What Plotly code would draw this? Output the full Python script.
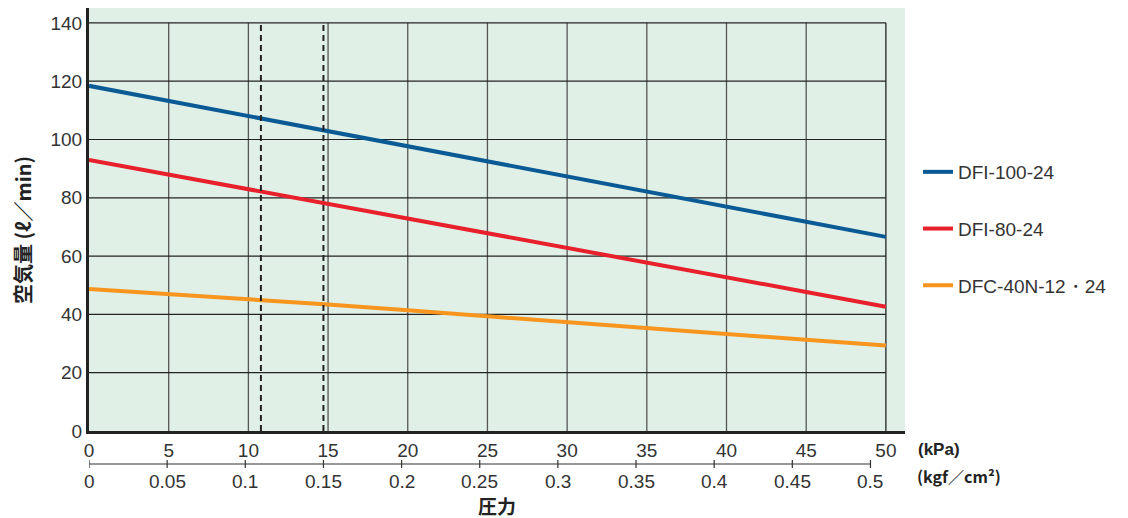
import plotly.graph_objects as go

# ---- data ----
pressure_kpa = [0, 5, 10, 15, 20, 25, 30, 35, 40, 45, 50]
dfi_100_24 = [118.4, 113.2, 108.0, 102.9, 97.7, 92.5, 87.3, 82.2, 77.0, 71.8, 66.6]
dfi_80_24 = [93.0, 88.0, 82.9, 77.9, 72.8, 67.8, 62.8, 57.7, 52.7, 47.7, 42.6]
dfc_40n = [48.7, 47.0, 45.2, 43.4, 41.4, 39.3, 37.3, 35.3, 33.3, 31.3, 29.3]
series_names = ["DFI-100-24", "DFI-80-24", "DFC-40N-12・24"]
series_colors = ["#0a5a96", "#e8202c", "#f7951e"]

kpa_ticks = [0, 5, 10, 15, 20, 25, 30, 35, 40, 45, 50]
kgf_ticks = [0, 0.05, 0.1, 0.15, 0.2, 0.25, 0.3, 0.35, 0.4, 0.45, 0.5]
kgf_labels = ["0", "0.05", "0.1", "0.15", "0.2", "0.25", "0.3", "0.35", "0.4", "0.45", "0.5"]
y_ticks = [0, 20, 40, 60, 80, 100, 120, 140]
dashed_kgf = [0.11, 0.15]
KPA_PER_KGF = 98.0665

x_max = 51.2
y_max = 145.1

FONT = "Liberation Sans, Arial"
JP = "Noto Sans CJK JP"

# page offset (body margin) and figure geometry
OFF = 8
W, H = 1120, 510
L, R, T, B = 81, 223, 0, 87
pw, ph = W - L - R, H - T - B


def px_x(x):
    return (x - OFF - L) / pw


def px_y(y):
    return (H - B - (y - OFF)) / ph


fig = go.Figure()
for name, ys, col in zip(series_names, [dfi_100_24, dfi_80_24, dfc_40n], series_colors):
    fig.add_trace(go.Scatter(x=pressure_kpa, y=ys, mode="lines", name=name,
                             legendgroup=name,
                             line=dict(color=col, width=4)))

shapes = []
for t in kpa_ticks[1:]:
    shapes.append(dict(type="line", xref="x", yref="y", x0=t, x1=t, y0=0, y1=y_ticks[-1],
                       line=dict(color="#555555" if t < 50 else "#222222", width=1.3), layer="below"))
for t in y_ticks[1:]:
    shapes.append(dict(type="line", xref="x", yref="y", x0=0, x1=kpa_ticks[-1], y0=t, y1=t,
                       line=dict(color="#222222", width=1.2), layer="below"))
for k in dashed_kgf:
    xv = k * KPA_PER_KGF
    shapes.append(dict(type="line", xref="x", yref="y", x0=xv, x1=xv, y0=0, y1=y_ticks[-1],
                       line=dict(color="#222222", width=2, dash="6px,4px")))
# kgf/cm2 secondary axis
sec_y = px_y(464)
tick_h = 4 / ph
shapes.append(dict(type="line", xref="x", yref="paper", x0=0, x1=kgf_ticks[-1] * KPA_PER_KGF,
                   y0=sec_y, y1=sec_y, line=dict(color="#333333", width=1.2)))
for k in kgf_ticks:
    xv = k * KPA_PER_KGF
    shapes.append(dict(type="line", xref="x", yref="paper", x0=xv, x1=xv,
                       y0=sec_y - tick_h, y1=sec_y + tick_h, line=dict(color="#333333", width=1.2)))

annotations = []
for k, lab in zip(kgf_ticks, kgf_labels):
    annotations.append(dict(x=k * KPA_PER_KGF, y=px_y(481), xref="x", yref="paper", text=lab,
                            showarrow=False, xanchor="center", yanchor="middle",
                            font=dict(family=FONT, size=19, color="#333333")))
extra = [
    dict(x=22, y=230, text="<b>空気量 (ℓ／min)</b>", showarrow=False,
         xanchor="center", yanchor="middle",
         textangle=-90, font=dict(family=JP, size=20, color="#222222")),
    dict(x=497, y=506, text="<b>圧力</b>", showarrow=False,
         xanchor="center", yanchor="middle",
         font=dict(family=JP, size=19, color="#222222")),
    dict(x=916, y=449, text="<b>(kPa)</b>", showarrow=False, xanchor="left", yanchor="middle",
         font=dict(family=FONT, size=17, color="#222222")),
    dict(x=915, y=476, text="<b>(kgf／cm²)</b>", showarrow=False, xanchor="left", yanchor="middle",
         font=dict(family=JP, size=16, color="#222222")),
]
for a in extra:
    a["x"] = px_x(a["x"])
    a["y"] = px_y(a["y"])
    a["xref"] = "paper"
    a["yref"] = "paper"
annotations += extra

fig.update_layout(
    width=W, height=H,
    margin=dict(l=L, r=R, t=T, b=B, pad=0, autoexpand=False),
    paper_bgcolor="white",
    plot_bgcolor="#e1f0e6",
    shapes=shapes,
    annotations=annotations,
    showlegend=True,
    legend=dict(x=px_x(918), y=px_y(153), xanchor="left", yanchor="top",
                font=dict(family=FONT, size=19, color="#333333"),
                tracegroupgap=29, itemwidth=30, bgcolor="rgba(0,0,0,0)"),
    xaxis=dict(range=[0, x_max], tickmode="array", tickvals=kpa_ticks,
               ticktext=[str(t) for t in kpa_ticks], showgrid=False, zeroline=False,
               showline=True, linecolor="#222222", linewidth=3, ticks="",
               automargin=False,
               tickfont=dict(family=FONT, size=19, color="#333333")),
    yaxis=dict(range=[0, y_max], tickmode="array", tickvals=y_ticks,
               ticktext=[str(t) for t in y_ticks], showgrid=False, zeroline=False,
               showline=True, linecolor="#222222", linewidth=3, ticks="",
               automargin=False,
               tickfont=dict(family=FONT, size=19, color="#333333")),
)

fig.write_html("out.html")
